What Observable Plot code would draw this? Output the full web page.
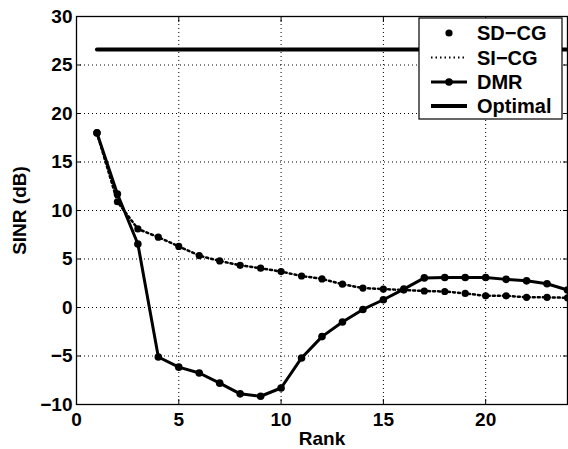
<!DOCTYPE html>
<html>
<head>
<meta charset="utf-8">
<script src="https://cdn.jsdelivr.net/npm/d3@7"></script>
<script src="https://cdn.jsdelivr.net/npm/@observablehq/plot@0.6"></script>
<style>
  html, body { margin: 0; padding: 0; background: #fff; }
  #chart { position: relative; width: 568px; height: 449px; }
  #chart svg text { font-size: 19px !important; font-weight: bold; font-family: 'Liberation Sans', Arial, sans-serif; }
  #chart svg g.legend text { font-size: 20px !important; }
</style>
</head>
<body>
<div id="chart"></div>
<script>
const rank = [1,2,3,4,5,6,7,8,9,10,11,12,13,14,15,16,17,18,19,20,21,22,23,24];
const sdcg = [18.0,10.9,8.1,7.25,6.3,5.35,4.8,4.35,4.05,3.7,3.25,2.95,2.4,2.0,1.9,1.8,1.7,1.65,1.45,1.2,1.2,1.05,1.05,1.0];
const sicg = [18.0,10.9,8.1,7.25,6.3,5.35,4.8,4.35,4.05,3.7,3.25,2.95,2.4,2.0,1.9,1.8,1.7,1.65,1.45,1.2,1.2,1.05,1.05,1.0];
const dmr  = [18.0,11.7,6.55,-5.1,-6.15,-6.75,-7.8,-8.9,-9.15,-8.3,-5.2,-3.0,-1.5,-0.2,0.8,1.9,3.05,3.1,3.1,3.1,2.9,2.75,2.45,1.8];
const optimalValue = 26.6;
const optimalRank = [1, 24];
const xTicks = [0,5,10,15,20];
const yTicks = [-10,-5,0,5,10,15,20,25,30];
const legendLabels = ["SD\u2212CG","SI\u2212CG","DMR","Optimal"];

const sdData = rank.map((r,i) => ({x: r, y: sdcg[i]}));
const siData = rank.map((r,i) => ({x: r, y: sicg[i]}));
const dmrData = rank.map((r,i) => ({x: r, y: dmr[i]}));
const optData = optimalRank.map(r => ({x: r, y: optimalValue}));

const font = "'Liberation Sans', Arial, sans-serif";

const plot = Plot.plot({
  width: 568,
  height: 449,
  marginLeft: 76,
  marginRight: 1,
  marginTop: 16,
  marginBottom: 45,
  style: {fontFamily: font, fontSize: "19px", fontWeight: "bold", color: "#000", background: "#fff"},
  x: {domain: [0, 24]},
  y: {domain: [-10, 30]},
  marks: [
    Plot.gridX(xTicks, {stroke: "#000", strokeOpacity: 1, strokeDasharray: "1,3", strokeWidth: 1}),
    Plot.gridY(yTicks, {stroke: "#000", strokeOpacity: 1, strokeDasharray: "1,3", strokeWidth: 1}),
    Plot.axisX(xTicks, {tickSize: 0, tickPadding: 8, label: "Rank", labelAnchor: "center", labelArrow: "none", labelOffset: 40}),
    Plot.axisX(xTicks, {tickSize: -5, tickFormat: () => "", label: null}),
    Plot.axisX(xTicks, {anchor: "top", tickSize: -5, tickFormat: () => "", label: null}),
    Plot.axisY(yTicks, {tickSize: 0, tickPadding: 4, label: "SINR (dB)", labelAnchor: "center", labelArrow: "none", labelOffset: 64}),
    Plot.axisY(yTicks, {tickSize: -5, tickFormat: () => "", label: null}),
    Plot.axisY(yTicks, {anchor: "right", tickSize: -5, tickFormat: () => "", label: null}),
    Plot.line(optData, {x: "x", y: "y", stroke: "#000", strokeWidth: 4}),
    Plot.line(siData, {x: "x", y: "y", stroke: "#000", strokeWidth: 2.5, strokeDasharray: "2,3"}),
    Plot.dot(sdData, {x: "x", y: "y", r: 3.6, fill: "#000"}),
    Plot.line(dmrData, {x: "x", y: "y", stroke: "#000", strokeWidth: 3}),
    Plot.dot(dmrData, {x: "x", y: "y", r: 3.8, fill: "#000"}),
    Plot.frame({stroke: "#000", strokeWidth: 1.3})
  ]
});

document.getElementById("chart").appendChild(plot);

// Legend (inside the SVG, top-right)
const svg = d3.select(plot);
const lg = svg.append("g").attr("class", "legend").attr("text-anchor", "start");
lg.append("rect").attr("x", 419).attr("y", 18).attr("width", 143).attr("height", 101)
  .attr("fill", "#fff").attr("stroke", "#000").attr("stroke-width", 1.2);
const rowY = [33, 57.5, 82, 106];
legendLabels.forEach((t, i) => {
  const y = rowY[i];
  if (i === 0) {
    lg.append("circle").attr("cx", 449).attr("cy", y).attr("r", 3.6).attr("fill", "#000");
  } else if (i === 1) {
    lg.append("line").attr("x1", 431).attr("x2", 467).attr("y1", y).attr("y2", y)
      .attr("stroke", "#000").attr("stroke-width", 2).attr("stroke-dasharray", "1.5,3");
  } else if (i === 2) {
    lg.append("line").attr("x1", 431).attr("x2", 467).attr("y1", y).attr("y2", y)
      .attr("stroke", "#000").attr("stroke-width", 3);
    lg.append("circle").attr("cx", 449).attr("cy", y).attr("r", 3.8).attr("fill", "#000");
  } else {
    lg.append("line").attr("x1", 431).attr("x2", 467).attr("y1", y).attr("y2", y)
      .attr("stroke", "#000").attr("stroke-width", 4);
  }
  lg.append("text").attr("x", 477).attr("y", y).attr("dy", "0.35em").attr("text-anchor", "start").text(t);
});
</script>
</body>
</html>
